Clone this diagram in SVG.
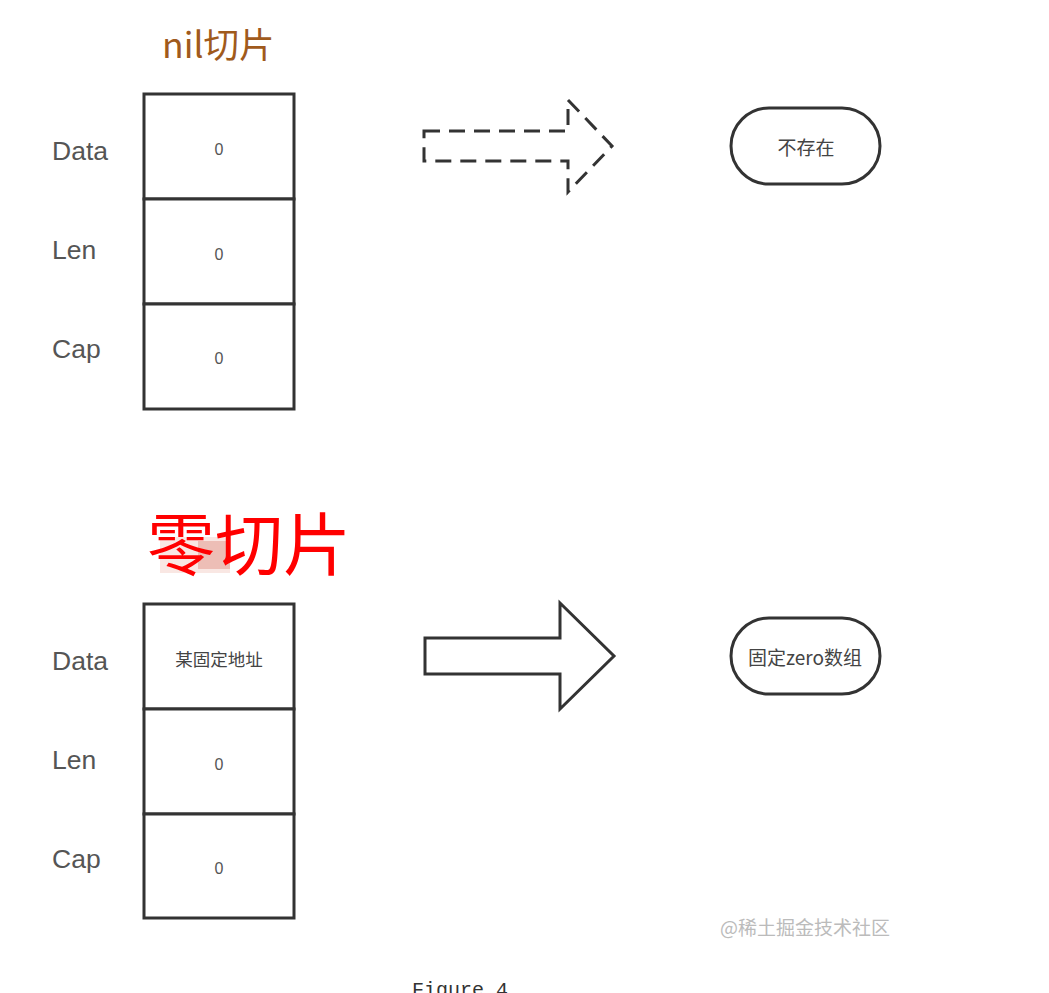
<svg xmlns="http://www.w3.org/2000/svg" width="1049" height="993" viewBox="0 0 1049 993">
<style>
.cell{fill:#fff;stroke:#333;stroke-width:3}
.lbl{font-family:"Liberation Sans","Noto Sans CJK SC",sans-serif;font-size:26.5px;fill:#555}
.val{font-family:"Liberation Sans","Noto Sans CJK SC",sans-serif;font-size:16px;fill:#555;text-anchor:middle}
.cjk{font-family:"Noto Sans CJK SC",sans-serif;fill:#444;text-anchor:middle}
.pill{fill:#fff;stroke:#333;stroke-width:3}
.arrow{fill:none;stroke:#333;stroke-width:3;stroke-linejoin:miter}
</style>
<rect width="1049" height="993" fill="#fff"/>
<text x="162" y="58" font-family="'Noto Sans CJK SC',sans-serif" font-size="35.5" fill="#a05a1c">nil切片</text>
<g id="nil-slice">
<rect class="cell" x="144" y="94" width="150" height="105"/>
<rect class="cell" x="144" y="199" width="150" height="105"/>
<rect class="cell" x="144" y="304" width="150" height="105"/>
<text class="lbl" x="52" y="160">Data</text>
<text class="lbl" x="52" y="259">Len</text>
<text class="lbl" x="52" y="358">Cap</text>
<text class="val" x="219" y="155">0</text>
<text class="val" x="219" y="260">0</text>
<text class="val" x="219" y="364">0</text>
</g>
<g id="nil-target">
<rect class="pill" x="731" y="108" width="149" height="76" rx="38"/>
<text class="cjk" x="806" y="155" font-size="19">不存在</text>
</g>
<g id="zero-title">
<rect x="160" y="537" width="70" height="36" fill="#e8a090" opacity="0.25"/>
<rect x="198" y="541" width="32" height="28" fill="#d06050" opacity="0.3"/>
<text x="147" y="570" font-family="'Noto Sans CJK SC',sans-serif" font-size="68" fill="#ff0000">零切片</text>
</g>
<g id="zero-slice">
<rect class="cell" x="144" y="604" width="150" height="105"/>
<rect class="cell" x="144" y="709" width="150" height="105"/>
<rect class="cell" x="144" y="814" width="150" height="104"/>
<text class="lbl" x="52" y="670">Data</text>
<text class="lbl" x="52" y="769">Len</text>
<text class="lbl" x="52" y="868">Cap</text>
<text class="cjk" x="219" y="666" font-size="17.5">某固定地址</text>
<text class="val" x="219" y="770">0</text>
<text class="val" x="219" y="874">0</text>
</g>
<g id="zero-target">
<rect class="pill" x="731" y="618" width="149" height="76" rx="38"/>
<text class="cjk" x="805" y="665" font-size="19">固定zero数组</text>
</g>
<g id="connectors">
<path class="arrow" stroke-dasharray="16 9" d="M424,131 H568 V100 L612,146 L568,192 V161 H424 Z"/>
<path class="arrow" d="M425,638 H560 V603 L614,656 L560,709 V674 H425 Z"/>
</g>
<text x="890" y="935" font-family="'Noto Sans CJK SC',sans-serif" font-size="19" fill="#bbb" text-anchor="end">@稀土掘金技术社区</text>
<text x="412" y="996" font-family="'Liberation Mono',monospace" font-size="20" fill="#333">Figure 4</text>
</svg>
